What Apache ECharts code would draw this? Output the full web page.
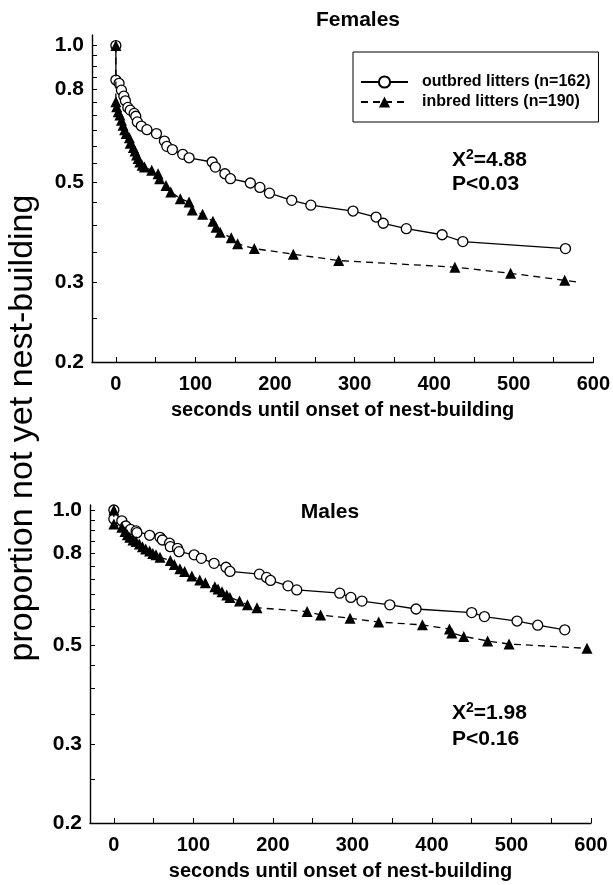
<!DOCTYPE html>
<html><head><meta charset="utf-8">
<script src="https://cdn.jsdelivr.net/npm/echarts@6/dist/echarts.min.js"></script>
<style>html,body{margin:0;padding:0;background:#fff}#c{width:613px;height:885px}</style>
</head><body><div id="c"></div>
<script>
// ---- tick values ----
const xTickLabels = [0, 100, 200, 300, 400, 500, 600];
const xTickMarks = [0, 50, 100, 150, 200, 250, 300, 350, 400, 450, 500, 550, 600];
const yTickLabels = [0.2, 0.3, 0.5, 0.8, 1.0];
const yTickMarks = [0.2, 0.25, 0.3, 0.35, 0.4, 0.45, 0.5, 0.55, 0.6, 0.65, 0.7, 0.75, 0.8, 0.85, 0.9, 0.95, 1.0];

// ---- Females ----
const femOutT = [0, 0, 4, 7, 10, 12, 15, 18, 23, 25, 27, 32, 39, 51, 61, 64, 71, 84, 92, 121, 125, 137, 144, 169, 181, 193, 221, 245, 298, 327, 336, 365, 410, 436, 565];
const femOutP = [1.0, 0.839, 0.825, 0.797, 0.773, 0.755, 0.730, 0.720, 0.708, 0.698, 0.678, 0.664, 0.652, 0.639, 0.615, 0.599, 0.589, 0.575, 0.565, 0.553, 0.539, 0.521, 0.508, 0.497, 0.486, 0.472, 0.455, 0.444, 0.431, 0.418, 0.405, 0.394, 0.382, 0.369, 0.356];
const femInT = [0, 0, 1, 3, 5, 7, 9, 11, 13, 17, 18, 22, 24, 26, 28, 30, 33, 36, 45, 53, 55, 63, 69, 81, 92, 96, 109, 122, 126, 131, 145, 153, 174, 223, 280, 426, 496, 564, 581];
const femInP = [1.0, 0.751, 0.732, 0.714, 0.702, 0.684, 0.667, 0.652, 0.639, 0.626, 0.608, 0.595, 0.585, 0.573, 0.563, 0.553, 0.544, 0.539, 0.530, 0.521, 0.508, 0.491, 0.475, 0.459, 0.451, 0.433, 0.424, 0.409, 0.397, 0.387, 0.376, 0.365, 0.356, 0.346, 0.335, 0.324, 0.314, 0.303, 0.300];

// ---- Males ----
const maleOutT = [0, 0, 10, 15, 21, 28, 29, 45, 58, 61, 70, 71, 80, 82, 101, 110, 126, 141, 146, 183, 192, 197, 219, 230, 284, 298, 312, 347, 380, 450, 466, 507, 533, 567];
const maleOutP = [1.0, 0.955, 0.946, 0.921, 0.905, 0.898, 0.890, 0.878, 0.869, 0.857, 0.843, 0.828, 0.821, 0.807, 0.794, 0.780, 0.760, 0.745, 0.729, 0.719, 0.707, 0.696, 0.677, 0.663, 0.652, 0.638, 0.626, 0.614, 0.601, 0.590, 0.578, 0.565, 0.553, 0.540];
const maleInT = [0, 0, 10, 14, 17, 20, 24, 28, 32, 36, 40, 45, 49, 53, 58, 71, 76, 83, 89, 98, 108, 115, 127, 131, 136, 142, 146, 158, 168, 180, 243, 260, 297, 333, 388, 422, 425, 440, 470, 497, 595];
const maleInP = [1.0, 0.93, 0.915, 0.895, 0.880, 0.869, 0.857, 0.850, 0.840, 0.828, 0.818, 0.810, 0.800, 0.794, 0.784, 0.771, 0.756, 0.739, 0.729, 0.712, 0.698, 0.688, 0.674, 0.666, 0.657, 0.646, 0.638, 0.626, 0.614, 0.605, 0.593, 0.583, 0.573, 0.562, 0.554, 0.542, 0.531, 0.522, 0.510, 0.502, 0.491];

const seriesNames = ['outbred litters (n=162)', 'inbred litters (n=190)'];
const panelTitles = ['Females', 'Males'];
const statLines = [['4.88', 'P<0.03'], ['1.98', 'P<0.16']];
const xName = 'seconds until onset of nest-building';
const yName = 'proportion not yet nest-building';

const FONT = '"Liberation Sans", Arial, Helvetica, sans-serif';

function pairs(t, p, lastPlain) {
  return t.map((v, i) => {
    if (lastPlain && i === t.length - 1) return { value: [v, p[i]], symbol: 'none' };
    return [v, p[i]];
  });
}

function xAxisCfg(gi) {
  return {
    type: 'value', gridIndex: gi, min: -30, max: 600,
    axisLine: { show: true, onZero: false, lineStyle: { color: '#000', width: 1.4 } },
    axisTick: { show: true, inside: true, length: 5, customValues: xTickMarks, lineStyle: { color: '#000', width: 1 } },
    axisLabel: { customValues: xTickLabels, color: '#000', fontSize: 20, fontWeight: 'bold', fontFamily: FONT, margin: 12 },
    splitLine: { show: false },
    name: xName, nameLocation: 'middle', nameGap: 38,
    nameTextStyle: { color: '#000', fontSize: 20, fontWeight: 'bold', fontFamily: FONT }
  };
}
function yAxisCfg(gi, max) {
  return {
    type: 'log', logBase: 10, gridIndex: gi, min: 0.2, max: max,
    axisLine: { show: true, onZero: false, lineStyle: { color: '#000', width: 1.4 } },
    axisTick: { show: true, inside: true, length: 5, customValues: yTickMarks, lineStyle: { color: '#000', width: 1 } },
    axisLabel: { customValues: yTickLabels, formatter: v => Number(v).toFixed(1), color: '#000', fontSize: 21, fontWeight: 'bold', fontFamily: FONT, margin: 8 },
    splitLine: { show: false },
    minorTick: { show: false }
  };
}
function outSeries(gi, data) {
  return {
    type: 'line', name: seriesNames[0], xAxisIndex: gi, yAxisIndex: gi, data: data,
    symbol: 'circle', symbolSize: 10, showAllSymbol: true, z: 2,
    itemStyle: { color: '#fff', borderColor: '#000', borderWidth: 1.3 },
    lineStyle: { color: '#000', width: 1.3 },
    emphasis: { disabled: true }
  };
}
function inSeries(gi, data) {
  return {
    type: 'line', name: seriesNames[1], xAxisIndex: gi, yAxisIndex: gi, data: data,
    symbol: 'triangle', symbolSize: 11, showAllSymbol: true, z: 3,
    itemStyle: { color: '#000' },
    lineStyle: { color: '#000', width: 1.3, type: [7, 5] },
    emphasis: { disabled: true }
  };
}
function statText(x, y, chi) {
  return {
    type: 'text', x: x, y: y,
    style: {
      text: '{n|X}{s|2}{n|=' + chi + '}',
      fill: '#000', align: 'left', verticalAlign: 'middle',
      rich: {
        n: { fontSize: 21, fontWeight: 'bold', fontFamily: FONT, fill: '#000', lineHeight: 24 },
        s: { fontSize: 14, fontWeight: 'bold', fontFamily: FONT, fill: '#000', verticalAlign: 'top', lineHeight: 24 }
      }
    }
  };
}
function plainText(x, y, txt, size, align, weight) {
  return {
    type: 'text', x: x, y: y,
    style: { text: txt, fill: '#000', font: (weight || 'normal') + ' ' + size + 'px ' + FONT, align: align || 'left', verticalAlign: 'middle' }
  };
}

const chart = echarts.init(document.getElementById('c'), null, { renderer: 'canvas' });
chart.setOption({
  animation: false,
  backgroundColor: '#fff',
  grid: [
    { left: 92, right: 17, top: 35, height: 327 },
    { left: 90, right: 22, top: 505, height: 318 }
  ],
  xAxis: [xAxisCfg(0), xAxisCfg(1)],
  yAxis: [yAxisCfg(0, 1.055), yAxisCfg(1, 1.026)],
  legend: {
    data: seriesNames, orient: 'vertical', left: 353, top: 52,
    padding: [22, 8, 12, 7], itemGap: 4, itemWidth: 47, itemHeight: 14,
    borderColor: '#000', borderWidth: 1, borderRadius: 0, selectedMode: false,
    textStyle: { color: '#000', fontSize: 16, fontWeight: 'bold', fontFamily: FONT, padding: [0, 0, 0, 9] }
  },
  series: [
    outSeries(0, pairs(femOutT, femOutP)),
    inSeries(0, pairs(femInT, femInP, true)),
    outSeries(1, pairs(maleOutT, maleOutP)),
    inSeries(1, pairs(maleInT, maleInP))
  ],
  graphic: [
    { type: 'text', x: 23, y: 428, rotation: Math.PI / 2,
      style: { text: yName, fill: '#000', font: '34px ' + FONT, align: 'center', verticalAlign: 'middle' } },
    plainText(358, 20, panelTitles[0], 21, 'center', 'bold'),
    plainText(330, 512, panelTitles[1], 21, 'center', 'bold'),
    statText(452, 160, statLines[0][0]),
    plainText(452, 184, statLines[0][1], 21, 'left', 'bold'),
    statText(452, 713, statLines[1][0]),
    plainText(452, 739, statLines[1][1], 21, 'left', 'bold')
  ]
});
</script>
</body></html>
